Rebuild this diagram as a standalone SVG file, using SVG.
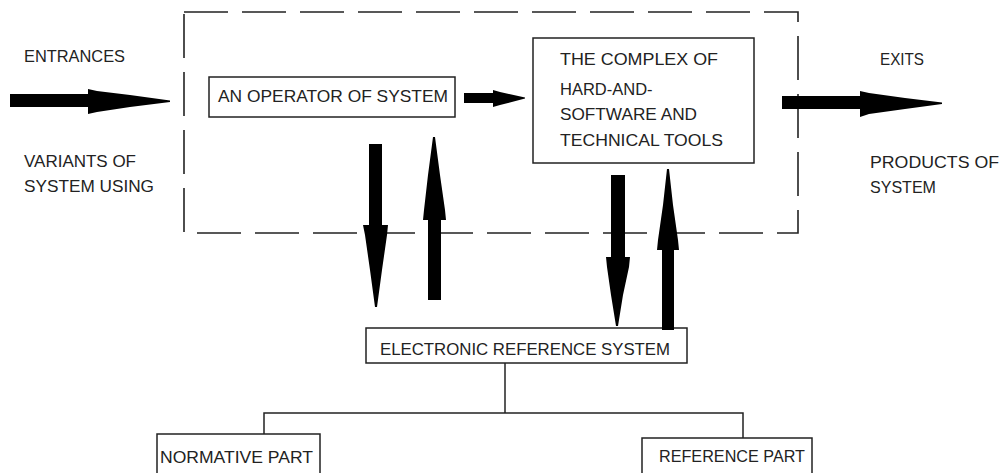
<svg xmlns="http://www.w3.org/2000/svg" width="1002" height="473" viewBox="0 0 1002 473">
<style>
.t{font-family:"Liberation Sans",Arial,sans-serif;font-size:16.5px;fill:#222}
.box{fill:#fff;stroke:#222;stroke-width:1.5}
.ln{fill:none;stroke:#222;stroke-width:1.5}
.ar{fill:#000}
</style>
<rect width="1002" height="473" fill="#fff"/>
<g id="boundary">
<rect x="184" y="12" width="614" height="221" fill="none" stroke="#222" stroke-width="1.6" stroke-dasharray="44 14"/>
</g>
<g id="labels">
<text class="t" x="24" y="62" textLength="101" lengthAdjust="spacingAndGlyphs">ENTRANCES</text>
<text class="t" x="24" y="167" textLength="112" lengthAdjust="spacingAndGlyphs">VARIANTS OF</text>
<text class="t" x="24" y="192" textLength="130" lengthAdjust="spacingAndGlyphs">SYSTEM USING</text>
<text class="t" x="880" y="65" textLength="44" lengthAdjust="spacingAndGlyphs">EXITS</text>
<text class="t" x="870" y="168" textLength="129" lengthAdjust="spacingAndGlyphs">PRODUCTS OF</text>
<text class="t" x="870" y="193" textLength="66" lengthAdjust="spacingAndGlyphs">SYSTEM</text>
</g>
<g id="operator">
<rect class="box" x="209" y="77" width="246" height="40"/>
<text class="t" x="218" y="102" textLength="230" lengthAdjust="spacingAndGlyphs">AN OPERATOR OF SYSTEM</text>
</g>
<g id="complex">
<rect class="box" x="533" y="38" width="221" height="125"/>
<text class="t" x="560" y="65" textLength="158" lengthAdjust="spacingAndGlyphs">THE COMPLEX OF</text>
<text class="t" x="560" y="95">HARD-AND-</text>
<text class="t" x="560" y="120" textLength="137" lengthAdjust="spacingAndGlyphs">SOFTWARE AND</text>
<text class="t" x="560" y="146" textLength="163" lengthAdjust="spacingAndGlyphs">TECHNICAL TOOLS</text>
</g>
<g id="ers">
<rect class="box" x="366" y="328" width="321" height="35"/>
<text class="t" x="380" y="355" textLength="290" lengthAdjust="spacingAndGlyphs">ELECTRONIC REFERENCE SYSTEM</text>
</g>
<g id="normative">
<rect class="box" x="157" y="434" width="163" height="50"/>
<text class="t" x="160" y="463" textLength="153" lengthAdjust="spacingAndGlyphs">NORMATIVE PART</text>
</g>
<g id="reference">
<rect class="box" x="642" y="438" width="170" height="50"/>
<text class="t" x="659" y="462" textLength="146" lengthAdjust="spacingAndGlyphs">REFERENCE PART</text>
</g>
<g id="connectors">
<polyline class="ln" points="505,363 505,413"/>
<polyline class="ln" points="264,434 264,413 743,413 743,438"/>
<polygon class="ar" points="10,94 88,94 88,89 97,91 130,95 170,100.5 170,102 130,107 97,112 88,114 88,107 10,107"/>
<polygon class="ar" points="464,93 493,93 493,90 500,92 525,97.5 525,98.5 500,105 493,107 493,103 464,103"/>
<polygon class="ar" points="782,96 860,96 860,91 869,93 905,98 942,102.5 942,104 905,109 869,114 860,117 860,109 782,109"/>
<polygon class="ar" points="369,144 382,144 382,225 388,225 387,235 382,270 377,307 375,307 370,270 365,235 363,225 369,225"/>
<polygon class="ar" points="428,300 441,300 441,220 446,220 445,210 440,175 435,137 433,137 428,175 424,210 423,220 428,220"/>
<polygon class="ar" points="611,175 625,175 625,257 630,257 629,267 623,295 618,326 616,326 611,295 607,267 606,257 611,257"/>
<polygon class="ar" points="662,330 674,330 674,250 679,250 678,240 673,205 669,169 667,169 663,205 658,240 657,250 662,250"/>
</g>
</svg>
